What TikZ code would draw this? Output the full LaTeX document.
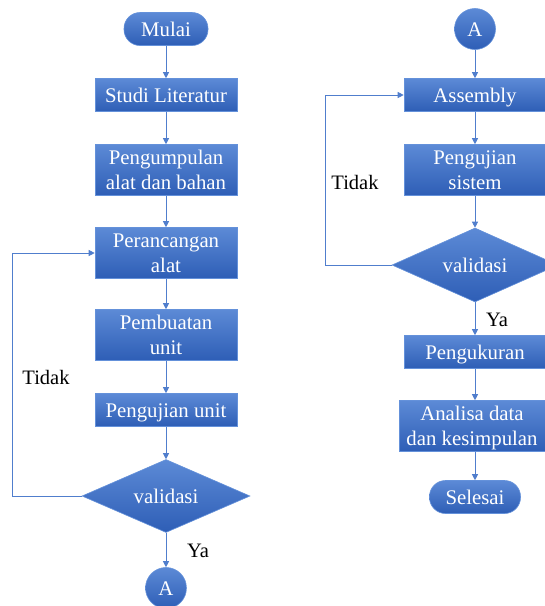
\documentclass[tikz,border=0pt]{standalone}
\usepackage{fontspec}
\setmainfont{Liberation Serif}
\usetikzlibrary{shapes.geometric,arrows.meta}
\definecolor{boxtop}{RGB}{92,138,214}
\definecolor{boxbot}{RGB}{46,94,182}
\definecolor{boxline}{RGB}{100,145,218}
\definecolor{conn}{RGB}{80,126,205}
\tikzset{
  base/.style={top color=boxtop, bottom color=boxbot, draw=boxline, line width=0.6pt,
    text=white, font=\fontsize{20.8}{24.5}\selectfont, inner sep=0pt, align=center, text depth=0pt},
  procbox/.style={base, rectangle, minimum width=142pt, minimum height=33pt, text height=14pt},
  tallbox/.style={base, rectangle, minimum width=142pt, minimum height=51pt},
  termbox/.style={base, rectangle, rounded corners=16pt, minimum height=33pt, text height=14pt},
  decbox/.style={base, diamond, aspect=2.3, minimum width=168pt, minimum height=73pt, text height=14pt},
  connbox/.style={base, circle, minimum size=41pt, text height=14pt},
  flow/.style={draw=conn, line width=0.8pt, -{Triangle[length=6pt,width=6pt]}},
  lbl/.style={text=black, font=\fontsize{20.5}{24}\selectfont, inner sep=0pt}
}
\begin{document}
\begin{tikzpicture}[x=1pt,y=-1pt]
\clip (0,0) rectangle (545,606);
\fill[white] (0,0) rectangle (545,606);
% left column
\node[termbox, minimum width=84pt] (mulai) at (166,29) {Mulai};
\node[procbox] (studi) at (166,95) {Studi Literatur};
\node[tallbox] (kumpul) at (166,170) {Pengumpulan\\alat dan bahan};
\node[tallbox] (rancang) at (166,253) {Perancangan\\alat};
\node[tallbox] (buat) at (166,335) {Pembuatan\\unit};
\node[procbox] (uji) at (166,410) {Pengujian unit};
\node[decbox] (val1) at (166,496) {validasi};
\node[connbox] (a1) at (166,588) {A};
\coordinate (l1) at (12,496);
\draw[flow] (mulai) -- (studi);
\draw[flow] (studi) -- (kumpul);
\draw[flow] (kumpul) -- (rancang);
\draw[flow] (rancang) -- (buat);
\draw[flow] (buat) -- (uji);
\draw[flow] (uji) -- (val1);
\draw[flow] (val1) -- (a1);
\draw[flow] (val1.west) -- (l1) |- (rancang.west);
\node[lbl] (tidak1) at (46,377) {Tidak};
\node[lbl] (ya1) at (198,551) {Ya};
% right column
\node[connbox] (a2) at (475,29) {A};
\node[procbox] (asm) at (475,95) {Assembly};
\node[tallbox] (ujisis) at (475,170) {Pengujian\\sistem};
\node[decbox, minimum width=166pt, minimum height=74pt] (val2) at (475,265) {validasi};
\node[procbox] (ukur) at (475,352) {Pengukuran};
\node[tallbox, minimum width=146pt] (analisa) at (472,426) {Analisa data\\dan kesimpulan};
\node[termbox, minimum width=91pt] (selesai) at (475,497) {Selesai};
\coordinate (l2) at (325,265);
\draw[flow] (a2) -- (asm);
\draw[flow] (asm) -- (ujisis);
\draw[flow] (ujisis) -- (val2);
\draw[flow] (val2) -- (ukur);
\draw[flow] (ukur.south) -- (ukur.south |- analisa.north);
\draw[flow] (analisa.south -| selesai.north) -- (selesai);
\draw[flow] (val2.west) -- (l2) |- (asm.west);
\node[lbl] (tidak2) at (355,182) {Tidak};
\node[lbl] (ya2) at (497,320) {Ya};
\end{tikzpicture}
\end{document}
